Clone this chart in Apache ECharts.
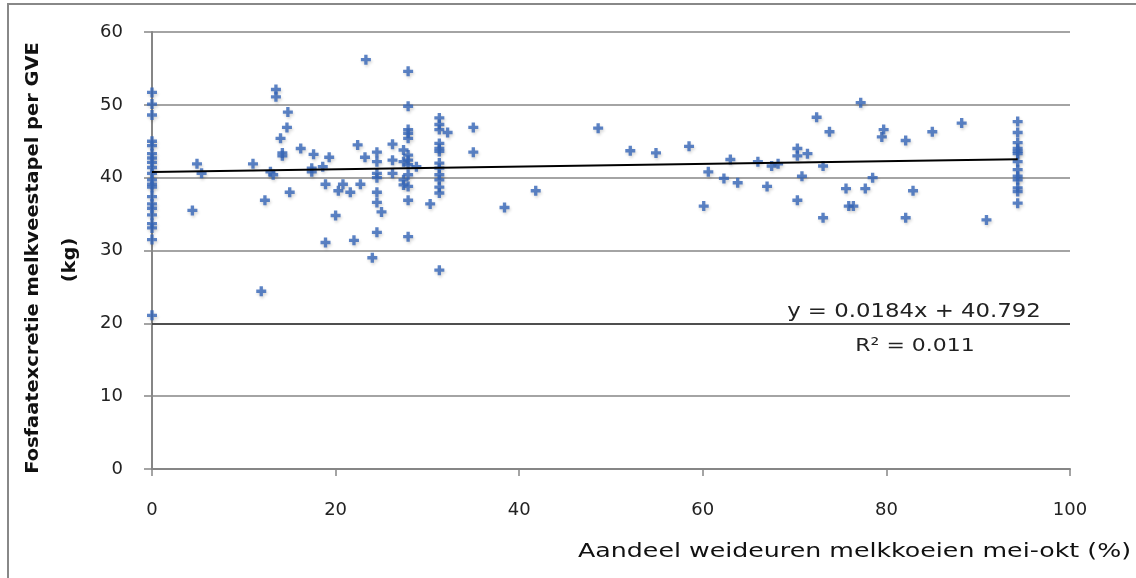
<!DOCTYPE html>
<html><head><meta charset="utf-8">
<script src="https://cdn.jsdelivr.net/npm/echarts@6/dist/echarts.min.js"></script>
<style>html,body{margin:0;padding:0;background:#fff}#c{width:1136px;height:578px}</style>
</head><body><div id="c"></div>
<script>
// Share of grazing hours (%) per farm
const pointX = [
  0,0,0,0,0,0,0,0,0,0,0,0,0,0,0,0,0,0,0,0,0,
  4.4,4.9,5.4,11.0,11.9,12.3,12.9,13.2,13.5,13.5,14.0,14.2,14.2,14.7,14.8,15.0,16.2,17.4,17.6,17.4,18.6,18.9,18.9,19.3,
  20.0,20.3,20.8,21.6,22.0,22.4,22.7,23.2,23.3,24.0,
  24.5,24.5,24.5,24.5,24.5,24.5,24.5,25.0,26.2,26.2,26.2,27.4,27.4,27.4,27.4,
  27.9,27.9,27.9,27.9,27.9,27.9,27.9,27.9,27.9,27.9,27.9,27.9,28.8,30.3,
  31.3,31.3,31.3,31.3,31.3,31.3,31.3,31.3,31.3,31.3,31.3,31.3,31.3,32.2,35.0,35.0,38.4,41.8,
  48.6,52.1,54.9,58.5,60.1,60.6,62.3,63.0,63.8,66.0,67.0,67.5,68.2,70.3,70.3,70.3,70.8,71.4,72.4,73.1,73.1,73.8,
  75.6,75.9,76.4,77.2,77.7,78.5,79.5,79.7,82.1,82.1,82.9,85.0,88.2,90.9,
  94.3,94.3,94.3,94.3,94.3,94.3,94.3,94.3,94.3,94.3,94.3,94.3,94.3
];
// Phosphate excretion per GVE (kg)
const pointY = [
  51.7,50.1,48.6,45.0,44.4,43.3,42.7,42.1,41.4,40.6,39.7,39.1,38.7,37.4,36.4,35.8,34.9,33.7,33.1,31.5,21.1,
  35.5,41.9,40.6,41.9,24.4,36.9,40.8,40.4,52.1,51.1,45.4,43.4,43.0,46.9,49.0,38.0,44.0,41.3,43.2,40.8,41.5,39.1,31.1,42.8,
  34.8,38.2,39.1,38.0,31.4,44.5,39.1,42.8,56.2,29.0,
  43.5,42.2,40.6,40.0,38.0,36.6,32.5,35.3,44.6,42.4,40.6,43.8,42.2,39.7,39.0,
  54.6,49.8,46.6,46.1,45.4,43.1,42.4,41.8,40.4,38.8,36.9,31.9,41.5,36.4,
  48.2,47.3,46.6,44.7,44.0,43.6,42.0,41.3,40.4,39.7,38.7,37.9,27.3,46.2,46.9,43.5,35.9,38.2,
  46.8,43.7,43.4,44.3,36.1,40.8,39.9,42.5,39.3,42.2,38.8,41.6,41.9,44.0,43.0,36.9,40.2,43.3,48.3,41.6,34.5,46.3,
  38.5,36.1,36.1,50.3,38.5,40.0,45.6,46.6,45.1,34.5,38.2,46.3,47.5,34.2,
  47.7,46.2,44.8,44.0,43.6,43.3,42.2,41.1,40.2,39.7,38.6,38.1,36.5
];
// Linear trendline end points (y = 0.0184x + 40.792)
const trendX = [0, 94.3];
const trendY = [40.79, 42.53];
const xTicks = [0, 20, 40, 60, 80, 100];
const yTicks = [0, 10, 20, 30, 40, 50, 60];
const eqText = 'y = 0.0184x + 40.792';
const r2Text = 'R² = 0.011';
const xTitle = 'Aandeel weideuren melkkoeien mei-okt (%)';
const yTitle1 = 'Fosfaatexcretie melkveestapel per GVE';
const yTitle2 = '(kg)';

const scatterData = pointX.map((x, i) => [x, pointY[i]]);
const trendData = trendX.map((x, i) => [x, trendY[i]]);

const chart = echarts.init(document.getElementById('c'));
const FONT = 'DejaVu Sans';
chart.setOption({
  animation: false,
  backgroundColor: '#fff',
  grid: { left: 152, right: 66, top: 32, bottom: 109, containLabel: false },
  xAxis: {
    type: 'value', min: xTicks[0], max: xTicks[xTicks.length - 1], interval: 20,
    axisLine: { show: true, lineStyle: { color: '#868686', width: 2 } },
    axisTick: { show: true, inside: false, length: 7, lineStyle: { color: '#868686', width: 1.5 } },
    axisLabel: { color: '#222', fontFamily: FONT, fontSize: 18, margin: 32 },
    splitLine: { show: false }
  },
  yAxis: {
    type: 'value', min: yTicks[0], max: yTicks[yTicks.length - 1], interval: 10,
    axisLine: { show: true, lineStyle: { color: '#868686', width: 2 } },
    axisTick: { show: true, inside: false, length: 8, lineStyle: { color: '#868686', width: 1.5 } },
    axisLabel: { color: '#222', fontFamily: FONT, fontSize: 18, margin: 29 },
    splitLine: { show: true, lineStyle: { color: '#868686', width: 1.5 } }
  },
  series: [
    {
      type: 'scatter',
      data: scatterData,
      symbol: 'path://M3,0H6V3H9V6H6V9H3V6H0V3H3Z',
      symbolSize: 10,
      itemStyle: { color: '#3465b8', shadowColor: 'rgba(0,0,0,0.2)', shadowBlur: 3, shadowOffsetX: 1, shadowOffsetY: 2 },
      markLine: {
        silent: true, symbol: 'none', label: { show: false },
        lineStyle: { color: '#333', width: 1.5, type: 'solid' },
        data: [{ yAxis: 20 }]
      },
      z: 3
    },
    {
      type: 'line',
      data: trendData,
      showSymbol: false,
      lineStyle: { color: '#000', width: 2 },
      z: 4
    }
  ],
  graphic: [
    { type: 'rect', silent: true, shape: { x: 8, y: 4, width: 1300, height: 700 },
      style: { fill: 'none', stroke: '#888', lineWidth: 2 }, z: 0 },
    { type: 'text', x: 33, y: 258, rotation: Math.PI / 2, scaleX: 1.08, silent: true,
      style: { text: yTitle1, fontFamily: FONT, fontSize: 18, fontWeight: 'bold', fill: '#111', align: 'center', verticalAlign: 'middle' } },
    { type: 'text', x: 70, y: 260, rotation: Math.PI / 2, scaleX: 1.08, silent: true,
      style: { text: yTitle2, fontFamily: FONT, fontSize: 18, fontWeight: 'bold', fill: '#111', align: 'center', verticalAlign: 'middle' } },
    { type: 'text', x: 1131, y: 552, scaleX: 1.33, silent: true,
      style: { text: xTitle, fontFamily: FONT, fontSize: 19, fill: '#111', align: 'right', verticalAlign: 'middle' } },
    { type: 'text', x: 914, y: 312, scaleX: 1.2, silent: true,
      style: { text: eqText, fontFamily: FONT, fontSize: 19, fill: '#222', align: 'center', verticalAlign: 'middle' } },
    { type: 'text', x: 915, y: 346, scaleX: 1.22, silent: true,
      style: { text: r2Text, fontFamily: FONT, fontSize: 18, fill: '#222', align: 'center', verticalAlign: 'middle' } }
  ]
});
</script>
</body></html>
